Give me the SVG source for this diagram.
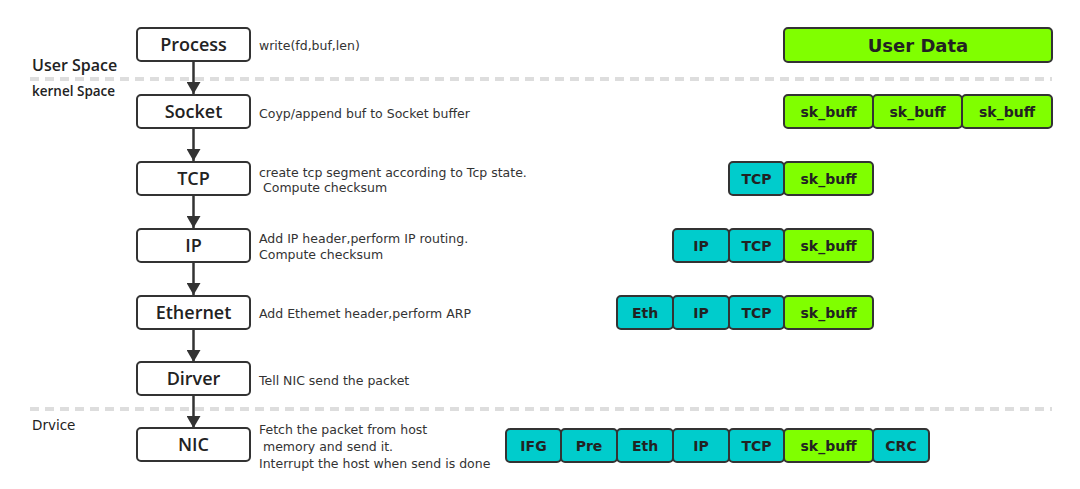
<svg xmlns="http://www.w3.org/2000/svg" width="1080" height="489" viewBox="0 0 1080 489">
<defs>
<marker id="ah" viewBox="0 0 12 14" refX="12" refY="7" markerWidth="12" markerHeight="14" markerUnits="userSpaceOnUse" orient="auto">
<path d="M0,0 L12,7 L0,14 Z" fill="#333"/>
</marker>
<style>
.node rect{fill:#fff;stroke:#333;stroke-width:2}
.node text{font-family:"Open Sans","DejaVu Sans",sans-serif;font-weight:600;font-size:18px;fill:#222;text-anchor:middle}
.desc{font-family:"DejaVu Sans","Liberation Sans",sans-serif;font-size:12.5px;fill:#333}
.sec{font-family:"Open Sans","DejaVu Sans",sans-serif;font-weight:600;fill:#222}
.g{fill:#80ff00;stroke:#333;stroke-width:2}
.t{fill:#00cccc;stroke:#333;stroke-width:2}
.cell text{font-family:"DejaVu Sans","Liberation Sans",sans-serif;font-weight:bold;font-size:14px;fill:#222;text-anchor:middle}
.dash{stroke:#ddd;stroke-width:4;stroke-dasharray:9,6}
.conn line{stroke:#333;stroke-width:2.5;marker-end:url(#ah)}
</style>
</defs>
<rect width="1080" height="489" fill="#fff"/>
<line class="dash" x1="30" y1="79" x2="1052" y2="79"/>
<line class="dash" x1="30" y1="409" x2="1052" y2="409"/>
<text class="sec" x="32" y="71" font-size="16">User Space</text>
<text class="sec" x="32" y="96" font-size="13.5">kernel Space</text>
<text class="desc" x="32" y="430" style="font-size:13.5px;fill:#222">Drvice</text>

<g id="connectors" class="conn">
<line x1="193.5" y1="61" x2="193.5" y2="94"/>
<line x1="193.5" y1="128" x2="193.5" y2="161"/>
<line x1="193.5" y1="195" x2="193.5" y2="228"/>
<line x1="193.5" y1="262" x2="193.5" y2="295"/>
<line x1="193.5" y1="329" x2="193.5" y2="362"/>
<line x1="193.5" y1="395" x2="193.5" y2="428"/>
</g>

<g id="process" class="node"><rect x="137" y="28" width="113" height="33" rx="4"/><text x="193.5" y="51">Process</text></g>
<g id="socket" class="node"><rect x="137" y="95" width="113" height="33" rx="4"/><text x="193.5" y="118">Socket</text></g>
<g id="tcp" class="node"><rect x="137" y="162" width="113" height="33" rx="4"/><text x="193.5" y="185">TCP</text></g>
<g id="ip" class="node"><rect x="137" y="229" width="113" height="33" rx="4"/><text x="193.5" y="252">IP</text></g>
<g id="ethernet" class="node"><rect x="137" y="296" width="113" height="33" rx="4"/><text x="193.5" y="319">Ethernet</text></g>
<g id="driver" class="node"><rect x="137" y="362" width="113" height="33" rx="4"/><text x="193.5" y="385">Dirver</text></g>
<g id="nic" class="node"><rect x="137" y="428" width="113" height="33" rx="4"/><text x="193.5" y="451">NIC</text></g>

<g id="descriptions">
<text class="desc" x="259" y="50">write(fd,buf,len)</text>
<text class="desc" x="259" y="118">Coyp/append buf to Socket buffer</text>
<text class="desc" x="259" y="177">create tcp segment according to Tcp state.</text>
<text class="desc" x="263" y="192">Compute checksum</text>
<text class="desc" x="259" y="243">Add IP header,perform IP routing.</text>
<text class="desc" x="259" y="259">Compute checksum</text>
<text class="desc" x="259" y="318">Add Ethemet header,perform ARP</text>
<text class="desc" x="259" y="385">Tell NIC send the packet</text>
<text class="desc" x="259" y="434">Fetch the packet from host</text>
<text class="desc" x="263" y="451">memory and send it.</text>
<text class="desc" x="259" y="468">Interrupt the host when send is done</text>
</g>

<g id="userdata" class="cell"><rect class="g" x="784" y="28" width="268" height="34" rx="4"/><text x="918" y="52" style="font-size:18px">User Data</text></g>

<g id="row-socket" class="cell">
<rect class="g" x="784" y="95" width="89" height="33" rx="4"/><text x="828.5" y="117">sk_buff</text>
<rect class="g" x="873" y="95" width="89" height="33" rx="4"/><text x="917.5" y="117">sk_buff</text>
<rect class="g" x="962" y="95" width="90" height="33" rx="4"/><text x="1007" y="117">sk_buff</text>
</g>

<g id="row-tcp" class="cell">
<rect class="t" x="729" y="162" width="55" height="33" rx="4"/><text x="756.5" y="184">TCP</text>
<rect class="g" x="784" y="162" width="89" height="33" rx="4"/><text x="828.5" y="184">sk_buff</text>
</g>

<g id="row-ip" class="cell">
<rect class="t" x="673" y="229" width="56" height="33" rx="4"/><text x="701" y="251">IP</text>
<rect class="t" x="729" y="229" width="55" height="33" rx="4"/><text x="756.5" y="251">TCP</text>
<rect class="g" x="784" y="229" width="89" height="33" rx="4"/><text x="828.5" y="251">sk_buff</text>
</g>

<g id="row-eth" class="cell">
<rect class="t" x="617" y="296" width="56" height="33" rx="4"/><text x="645" y="318">Eth</text>
<rect class="t" x="673" y="296" width="56" height="33" rx="4"/><text x="701" y="318">IP</text>
<rect class="t" x="729" y="296" width="55" height="33" rx="4"/><text x="756.5" y="318">TCP</text>
<rect class="g" x="784" y="296" width="89" height="33" rx="4"/><text x="828.5" y="318">sk_buff</text>
</g>

<g id="row-nic" class="cell">
<rect class="t" x="506" y="429" width="55" height="33" rx="4"/><text x="533.5" y="451">IFG</text>
<rect class="t" x="561" y="429" width="56" height="33" rx="4"/><text x="589" y="451">Pre</text>
<rect class="t" x="617" y="429" width="56" height="33" rx="4"/><text x="645" y="451">Eth</text>
<rect class="t" x="673" y="429" width="56" height="33" rx="4"/><text x="701" y="451">IP</text>
<rect class="t" x="729" y="429" width="55" height="33" rx="4"/><text x="756.5" y="451">TCP</text>
<rect class="g" x="784" y="429" width="89" height="33" rx="4"/><text x="828.5" y="451">sk_buff</text>
<rect class="t" x="873" y="429" width="56" height="33" rx="4"/><text x="901" y="451">CRC</text>
</g>
</svg>
